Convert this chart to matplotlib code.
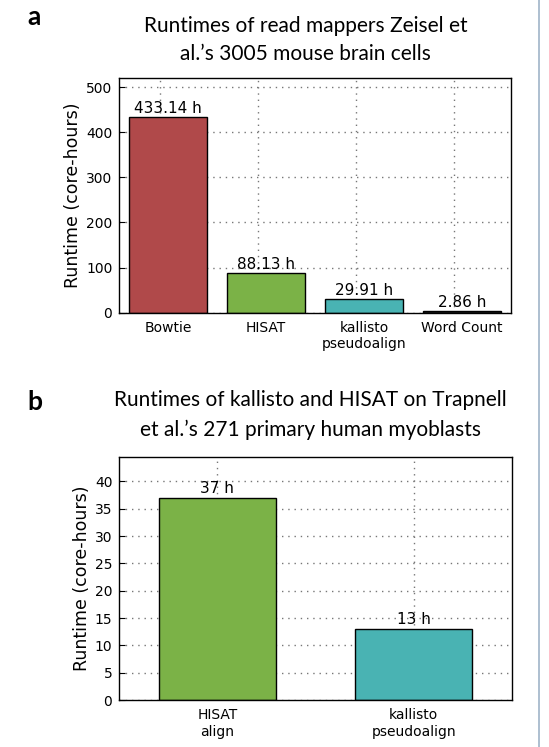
import matplotlib
matplotlib.use("Agg")
import matplotlib.pyplot as plt
from matplotlib.lines import Line2D

# panel a data
mappers = ["Bowtie", "HISAT", "kallisto\npseudoalign", "Word Count"]
runtimes_a = [433.14, 88.13, 29.91, 2.86]
labels_a = ["433.14 h", "88.13 h", "29.91 h", "2.86 h"]
colors_a = ["#b0494a", "#7bb247", "#49b3b3", "#1a1a1a"]

# panel b data
tools_b = ["HISAT\nalign", "kallisto\npseudoalign"]
runtimes_b = [37, 13]
labels_b = ["37 h", "13 h"]
colors_b = ["#7bb247", "#49b3b3"]

plt.rcParams['font.family'] = ['DejaVu Sans']

fig = plt.figure(figsize=(5.49, 7.47), dpi=100)

GRID = dict(linestyle=(0, (1, 3.5)), color='#777777', linewidth=1.0)

def style_axes(ax):
    ax.tick_params(direction='in', length=4, labelsize=10, pad=5, top=False, right=False)
    ax.tick_params(axis='x', length=0, pad=6)
    for s in ax.spines.values():
        s.set_linewidth(1.0)
    ax.set_axisbelow(True)
    ax.grid(axis='y', **GRID)
    ax.set_ylabel("Runtime (core-hours)", fontsize=12.5, labelpad=3)

# ---- panel a
ax1 = fig.add_axes([0.2173, 0.5814, 0.7135, 0.3138])
xa = list(range(len(mappers)))
ax1.bar(xa, runtimes_a, width=0.8, color=colors_a, edgecolor='black', linewidth=1.0)
for x, v, t in zip(xa, runtimes_a, labels_a):
    ax1.text(x, v + 3, t, ha='center', va='bottom', fontsize=11)
ax1.set_xlim(-0.5, len(mappers) - 0.5)
ax1.set_ylim(0, max(runtimes_a) * 1.2)
ax1.set_yticks([0, 100, 200, 300, 400, 500])
ax1.set_xticks(xa)
ax1.set_xticklabels(mappers)
# vertical gridlines sit a bit left of the bar centres in the original
ax1.set_xticks([x - 0.08 for x in xa], minor=True)
ax1.tick_params(axis='x', which='minor', length=0)
ax1.grid(axis='x', which='minor', **GRID)
style_axes(ax1)

# ---- panel b
ax2 = fig.add_axes([0.2173, 0.0629, 0.7148, 0.3249])
xb = list(range(len(tools_b)))
ax2.bar(xb, runtimes_b, width=0.6, color=colors_b, edgecolor='black', linewidth=1.0)
for x, v, t in zip(xb, runtimes_b, labels_b):
    ax2.text(x, v + 0.3, t, ha='center', va='bottom', fontsize=11)
ax2.set_xlim(-0.5, len(tools_b) - 0.5)
ax2.set_ylim(0, max(runtimes_b) * 1.2)
ax2.set_yticks(range(0, 41, 5))
ax2.set_xticks(xb)
ax2.set_xticklabels(tools_b)
ax2.grid(axis='x', **GRID)
style_axes(ax2)

# titles and panel letters
fig.text(0.557, 1 - 40 / 747, "Runtimes of read mappers Zeisel et\nal.\u2019s 3005 mouse brain cells",
         ha='center', va='center', fontsize=15, family='Lato', linespacing=1.55)
fig.text(0.565, 1 - 415 / 747, "Runtimes of kallisto and HISAT on Trapnell\net al.\u2019s 271 primary human myoblasts",
         ha='center', va='center', fontsize=15, family='Lato', linespacing=1.55)
fig.text(27 / 549, 1 - 17 / 747, "a", ha='left', va='center', fontsize=19, fontweight='bold', family='Lato')
fig.text(27 / 549, 1 - 402 / 747, "b", ha='left', va='center', fontsize=19, fontweight='bold', family='Lato')

# thin border line on the right edge
fig.add_artist(Line2D([538.5 / 549, 538.5 / 549], [0, 1], color='#9fb4c8', linewidth=1.2))

fig.savefig("out.png", dpi=100)
plt.close()
